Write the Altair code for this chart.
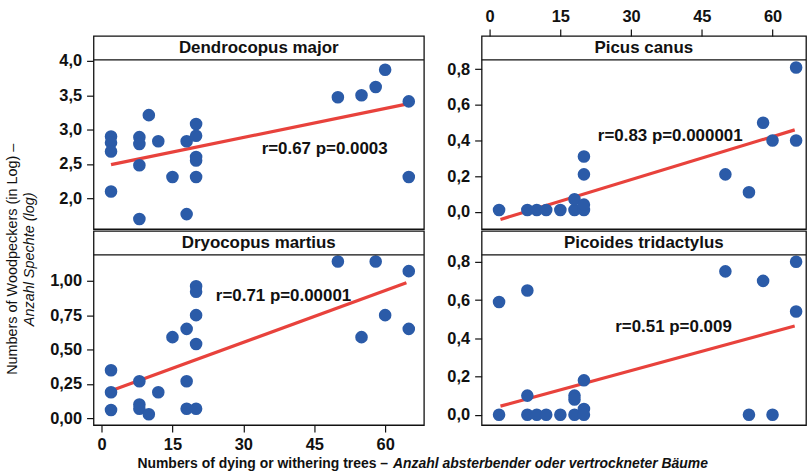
import altair as alt
import pandas as pd

FONT = "Liberation Sans"
DOT = "#2B5BA8"
FIT = "#E8423C"
INK = "#111111"
HEADER = 24

X_TICKS = [0, 15, 30, 45, 60]

# Dendrocopus major (log counts)
dm_x = [2, 2, 2, 2, 8, 8, 8, 8, 10, 12, 15, 18, 18, 20, 20, 20, 20, 20, 50, 55, 58, 60, 65, 65]
dm_y = [2.90, 2.81, 2.68, 2.10, 2.89, 2.79, 2.48, 1.70, 3.21, 2.83, 2.31, 2.83, 1.77,
        3.08, 2.91, 2.60, 2.55, 2.31, 3.47, 3.50, 3.62, 3.87, 3.41, 2.31]
dm_fit_x = [2, 64.5]
dm_fit_y = [2.49, 3.37]

# Dryocopus martius
dr_x = [2, 2, 2, 8, 8, 8, 10, 12, 15, 18, 18, 18, 20, 20, 20, 20, 20, 50, 55, 58, 60, 65, 65]
dr_y = [0.35, 0.19, 0.06, 0.27, 0.10, 0.07, 0.03, 0.19, 0.59, 0.65, 0.27, 0.07,
        0.96, 0.92, 0.75, 0.54, 0.07, 1.14, 0.59, 1.14, 0.75, 1.07, 0.65]
dr_fit_x = [2, 64.5]
dr_fit_y = [0.20, 0.985]

# Picus canus
pc_x = [2, 8, 10, 12, 15, 18, 18, 20, 20, 20, 20, 50, 55, 58, 60, 65, 65]
pc_y = [0.01, 0.01, 0.01, 0.01, 0.01, 0.01, 0.07, 0.01, 0.04, 0.21, 0.31,
        0.21, 0.11, 0.50, 0.40, 0.81, 0.40]
pc_fit_x = [2.3, 64.7]
pc_fit_y = [-0.043, 0.46]

# Picoides tridactylus
pt_x = [2, 2, 8, 8, 8, 10, 12, 15, 18, 18, 18, 20, 20, 20, 50, 55, 58, 60, 65, 65]
pt_y = [0.59, 0.0, 0.65, 0.10, 0.0, 0.0, 0.0, 0.0, 0.10, 0.08, 0.0, 0.18, 0.03, 0.0,
        0.75, 0.0, 0.70, 0.0, 0.80, 0.54]
pt_fit_x = [2.3, 64.7]
pt_fit_y = [0.045, 0.464]


def panel(name, xs, ys, fit_x, fit_y, stat, stat_xy, x_dom, y_dom, y_ticks, y_fmt,
          width, height, x_axis):
    pts = pd.DataFrame({"x": xs, "y": ys})
    fit = pd.DataFrame({"x": fit_x, "y": fit_y})
    note = pd.DataFrame({"x": [stat_xy[0]], "y": [stat_xy[1]], "t": [stat]})
    sx = alt.Scale(domain=x_dom, nice=False, zero=False)
    sy = alt.Scale(domain=y_dom, range=[height, HEADER], nice=False, zero=False)
    y_axis = alt.Axis(
        values=y_ticks,
        labelExpr=f"replace(format(datum.value, '{y_fmt}'), '.', ',')",
        title=None, grid=False, domain=False,
    )
    X = alt.X("x:Q", scale=sx, axis=x_axis)
    Y = alt.Y("y:Q", scale=sy, axis=y_axis)
    line = alt.Chart(fit).mark_line(color=FIT, strokeWidth=3.2).encode(x=X, y=Y)
    dots = alt.Chart(pts).mark_circle(size=160, color=DOT, opacity=1).encode(x=X, y=Y)
    label = alt.Chart(note).mark_text(
        font=FONT, fontSize=17, fontWeight="bold", color=INK
    ).encode(x=X, y=Y, text="t:N")
    strip = alt.Chart(pd.DataFrame({"t": [name]}))
    rule = strip.mark_rule(color=INK, strokeWidth=1.3).encode(
        x=alt.value(0), x2=alt.value(width), y=alt.value(HEADER)
    )
    head = strip.mark_text(
        font=FONT, fontSize=17, fontWeight="bold", color=INK
    ).encode(x=alt.value(width / 2), y=alt.value(HEADER / 2 + 0.5), text="t:N")
    return alt.layer(line, dots, label, rule, head).properties(
        width=width, height=height,
        view=alt.ViewBackground(stroke=INK, strokeWidth=1.3),
    )


def x_axis(orient):
    return alt.Axis(values=X_TICKS, orient=orient, title=None, grid=False, domain=False)


W_L, W_R = 332, 326
LEFT_DOM = [-1.7, 68.2]
RIGHT_DOM = [-1.7, 67.1]

p_dm = panel("Dendrocopus major", dm_x, dm_y, dm_fit_x, dm_fit_y, "r=0.67 p=0.0003",
             (47.2, 2.72), LEFT_DOM, [1.553, 4.014], [2.0, 2.5, 3.0, 3.5, 4.0], ".1f",
             W_L, 194, None)
p_pc = panel("Picus canus", pc_x, pc_y, pc_fit_x, pc_fit_y, "r=0.83 p=0.000001",
             (38.3, 0.424), RIGHT_DOM, [-0.097, 0.853], [0.0, 0.2, 0.4, 0.6, 0.8], ".1f",
             W_R, 194, x_axis("top"))
p_dr = panel("Dryocopus martius", dr_x, dr_y, dr_fit_x, dr_fit_y, "r=0.71 p=0.00001",
             (38.5, 0.886), LEFT_DOM, [-0.049, 1.188], [0.0, 0.25, 0.5, 0.75, 1.0], ".2f",
             W_L, 195, x_axis("bottom"))
p_pt = panel("Picoides  tridactylus", pt_x, pt_y, pt_fit_x, pt_fit_y, "r=0.51 p=0.009",
             (39.0, 0.458), RIGHT_DOM, [-0.054, 0.836], [0.0, 0.2, 0.4, 0.6, 0.8], ".1f",
             W_R, 195, None)

grid = alt.concat(p_dm, p_pc, p_dr, p_pt, columns=2, spacing={"row": 0, "column": 20})

X_TITLE_EN = "Numbers of dying or withering trees \u2013"
X_TITLE_DE = "Anzahl absterbender oder vertrockneter B\u00e4ume"
foot_src = alt.Chart(pd.DataFrame({"a": [X_TITLE_EN], "b": [X_TITLE_DE]}))
foot_en = foot_src.mark_text(
    font=FONT, fontSize=14, fontWeight="bold", align="right", color=INK
).encode(x=alt.value(296), y=alt.value(8), text="a:N")
foot_de = foot_src.mark_text(
    font=FONT, fontSize=14, fontWeight="bold", fontStyle="italic", align="left", color=INK
).encode(x=alt.value(301), y=alt.value(8), text="b:N")
footer = alt.layer(foot_en, foot_de).properties(width=W_L, height=14)

chart = alt.vconcat(grid, footer, spacing=0).properties(
    title=alt.TitleParams(
        text="Numbers of Woodpeckers (in Log) \u2013",
        subtitle="Anzahl Spechte (log)",
        orient="left", anchor="middle", dx=-20,
        font=FONT, fontSize=14.5, fontWeight="normal", color=INK,
        subtitleFont=FONT, subtitleFontSize=14.5, subtitleFontStyle="italic",
        subtitleColor=INK, subtitlePadding=2, offset=12,
    ),
    padding={"left": 5, "top": 6, "right": 0, "bottom": 0},
).configure_view(stroke="transparent").configure_axis(
    labelFont=FONT, labelFontSize=16.5, labelFontWeight="bold", labelColor=INK,
    tickColor=INK, tickSize=7, tickWidth=1.2, labelPadding=5,
)

chart.save("out.html", embed_options={"renderer": "svg", "actions": False})
